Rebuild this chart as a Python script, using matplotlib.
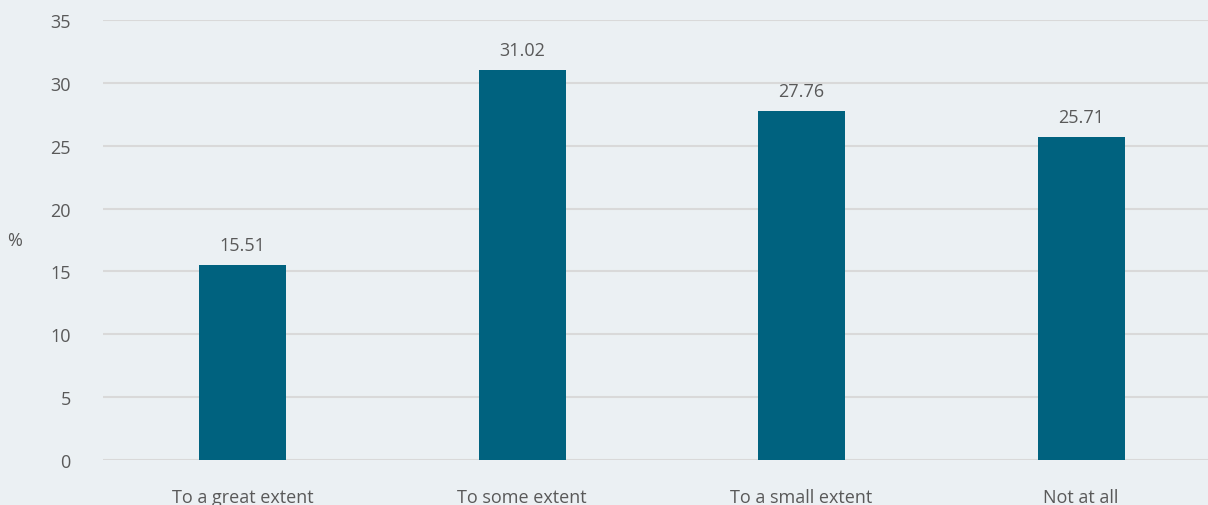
import matplotlib
matplotlib.use("Agg")
import matplotlib.pyplot as plt

categories = ["To a great extent", "To some extent", "To a small extent", "Not at all"]
values = [15.51, 31.02, 27.76, 25.71]
yticks = [0, 5, 10, 15, 20, 25, 30, 35]

BG = "#EBF0F3"
BAR = "#00627F"
TEXT = "#595959"
GRID = "#D9D9D9"

plt.rcParams["font.family"] = ["Open Sans", "DejaVu Sans"]

fig = plt.figure(figsize=(12.08, 5.06), dpi=100, facecolor=BG)
ax = fig.add_axes([0.0851, 0.0889, 0.9255, 0.8696])
ax.set_facecolor(BG)

x = range(len(categories))
ax.bar(x, values, width=0.311, color=BAR, zorder=3)
for xi, v in zip(x, values):
    ax.annotate(f"{v:.2f}", (xi, v), xytext=(0, 8), textcoords="offset points",
                ha="center", va="bottom", fontsize=13, color=TEXT)

ax.set_xlim(-0.5, len(categories) - 0.5)
ax.set_ylim(0, 35)
ax.set_yticks(yticks)
ax.yaxis.grid(True, color=GRID, linewidth=1.5, zorder=0)
ax.set_axisbelow(True)
for s in ax.spines.values():
    s.set_visible(False)
ax.tick_params(axis="both", length=0, colors=TEXT, labelsize=13)
ax.tick_params(axis="y", pad=23)
ax.tick_params(axis="x", pad=20)
ax.set_xticks(list(x))
ax.set_xticklabels(categories)
ax.set_ylabel("%", rotation=0, color=TEXT, fontsize=13, va="center")
ax.yaxis.set_label_coords(-0.079, 0.5)

fig.savefig("out.png", dpi=100, facecolor=BG)
